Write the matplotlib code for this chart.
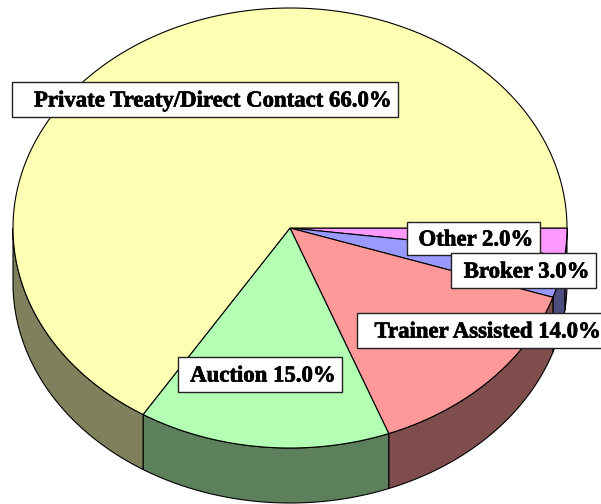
import numpy as np
import matplotlib
matplotlib.use("Agg")
import matplotlib.pyplot as plt
from matplotlib.patches import Polygon, Rectangle
import matplotlib.patheffects as pe

labels = ["Other", "Broker", "Trainer Assisted", "Auction", "Private Treaty/Direct Contact"]
label_pct = [2.0, 3.0, 14.0, 15.0, 66.0]
# shares as measured from the slice edges in the picture
slice_shares = [2.0, 3.1, 14.1, 14.7, 66.1]
top_colors = ["#ff99ff", "#9999ff", "#ff9999", "#b3ffb3", "#ffffb3"]
side_colors = ["#804d80", "#4d4d80", "#804d4d", "#5c805c", "#80805c"]

# label boxes in pixels: left, top, right, bottom
boxes = [
    (407, 222, 540, 255),
    (451, 253, 596, 288),
    (357, 313, 607, 348),
    (178, 357, 342, 392),
    (12, 82, 398, 117),
]

cx, cy = 290, 228
rx, ry = 277, 220
depth = 55


def rim(a0, a1):
    t = np.radians(np.linspace(a0, a1, 200))
    return cx + rx * np.cos(t), cy + ry * np.sin(t)


fig = plt.figure(figsize=(6.01, 5.04), dpi=100)
ax = fig.add_axes([0, 0, 1, 1])
ax.set_xlim(0, 601)
ax.set_ylim(504, 0)
ax.axis("off")

# angles run clockwise on screen from 3 o'clock
edges = np.cumsum([0] + slice_shares) * 3.6

# side wall, only the front half shows
for i in range(len(slice_shares)):
    a0, a1 = edges[i], min(edges[i + 1], 180)
    if a0 >= a1:
        continue
    x, y = rim(a0, a1)
    pts = np.r_[np.c_[x, y], np.c_[x[::-1], y[::-1] + depth]]
    ax.add_patch(Polygon(pts, fc=side_colors[i], ec="black", lw=0.8, zorder=1))

# top face
for i in range(len(slice_shares)):
    x, y = rim(edges[i], edges[i + 1])
    pts = np.r_[[[cx, cy]], np.c_[x, y]]
    ax.add_patch(Polygon(pts, fc=top_colors[i], ec="black", lw=0.8, zorder=2))

for name, val, (l, t, r, b) in zip(labels, label_pct, boxes):
    ax.add_patch(Rectangle((l, t), r - l, b - t, fc="white", ec="#222222", lw=1, zorder=3))
    ax.text(r - 6.5, (t + b) / 2 + 1.5, f"{name} {val:.1f}%", family="Liberation Serif",
            weight="bold", fontsize=16.4, ha="right", va="center", color="black", zorder=4,
            path_effects=[pe.withStroke(linewidth=0.5, foreground="black")])

fig.savefig("out.png", dpi=100)
